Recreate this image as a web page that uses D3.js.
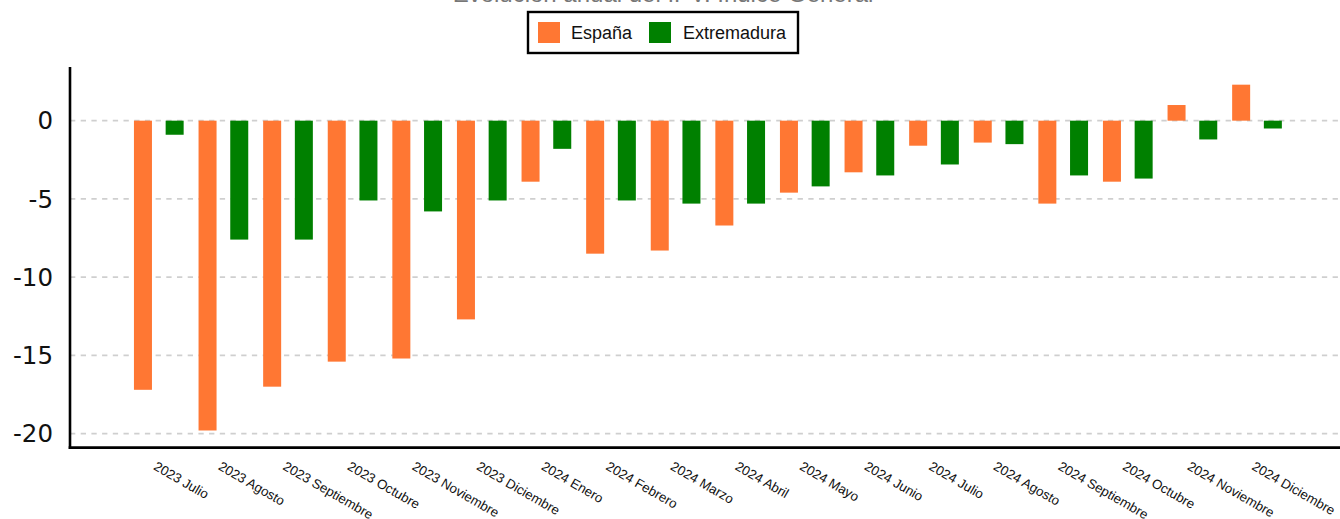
<!DOCTYPE html>
<html>
<head>
<meta charset="utf-8">
<script src="https://cdn.jsdelivr.net/npm/d3@7"></script>
<style>
  html, body { margin: 0; padding: 0; background: #fff; }
  svg { display: block; }
</style>
</head>
<body>
<svg id="chart"></svg>
<script>
// IPV annual variation, España vs Extremadura — grouped bars around zero.
const MONTHS = [
  "2023 Julio", "2023 Agosto", "2023 Septiembre", "2023 Octubre", "2023 Noviembre", "2023 Diciembre",
  "2024 Enero", "2024 Febrero", "2024 Marzo", "2024 Abril", "2024 Mayo", "2024 Junio",
  "2024 Julio", "2024 Agosto", "2024 Septiembre", "2024 Octubre", "2024 Noviembre", "2024 Diciembre",
];
const SERIES = ["España", "Extremadura"];
const ESPANA = [-17.2, -19.8, -17.0, -15.4, -15.2, -12.7, -3.9, -8.5, -8.3, -6.7, -4.6, -3.3, -1.6, -1.4, -5.3, -3.9, 1.0, 2.3];
const EXTREMADURA = [-0.9, -7.6, -7.6, -5.1, -5.8, -5.1, -1.8, -5.1, -5.3, -5.3, -4.2, -3.5, -2.8, -1.5, -3.5, -3.7, -1.2, -0.5];
const Y_TICKS = [0, -5, -10, -15, -20];
const TITLE = "Evolución anual del IPV. Índice General";

const COLORS = { "España": "#ff7733", "Extremadura": "#008000" };
const W = 1340, H = 519;

const rows = MONTHS.map((m, i) => ({ month: m, "España": ESPANA[i], "Extremadura": EXTREMADURA[i] }));

const svg = d3.select("#chart").attr("width", W).attr("height", H);

const axisX = 70, axisTop = 67, axisBottom = 447.7;

const y = d3.scaleLinear().domain([-20.9, 3.43]).range([axisBottom, axisTop]);
const x = d3.scaleBand().domain(MONTHS).range([126.5, 126.5 + 18 * 64.6]);
const xs = d3.scaleBand().domain(SERIES).range([0, x.bandwidth()])
  .paddingInner(0.432).paddingOuter(0.235);

// dashed gridlines
svg.append("g").selectAll("line").data(Y_TICKS).join("line")
  .attr("x1", axisX).attr("x2", W)
  .attr("y1", (d) => y(d)).attr("y2", (d) => y(d))
  .attr("stroke", "#cfcfcf")
  .attr("stroke-width", 1.6)
  .attr("stroke-dasharray", "5.3,5.4");

// y tick labels
svg.append("g").selectAll("text").data(Y_TICKS).join("text")
  .attr("x", 53).attr("y", (d) => y(d)).attr("dy", "0.36em")
  .attr("text-anchor", "end")
  .attr("font-family", "'DejaVu Sans', sans-serif")
  .attr("font-size", 24.5)
  .attr("fill", "#111")
  .text((d) => d);

// bars
const g = svg.append("g").selectAll("g").data(rows).join("g")
  .attr("transform", (d) => `translate(${x(d.month)},0)`);
g.selectAll("rect").data((d) => SERIES.map((k) => ({ key: k, value: d[k] }))).join("rect")
  .attr("x", (d) => xs(d.key))
  .attr("width", xs.bandwidth())
  .attr("y", (d) => y(Math.max(0, d.value)))
  .attr("height", (d) => Math.abs(y(d.value) - y(0)))
  .attr("fill", (d) => COLORS[d.key]);

// axes lines
svg.append("line")
  .attr("x1", axisX).attr("x2", axisX).attr("y1", axisTop).attr("y2", axisBottom + 1.4)
  .attr("stroke", "#000").attr("stroke-width", 2.6);
svg.append("line")
  .attr("x1", axisX - 1.3).attr("x2", W).attr("y1", axisBottom).attr("y2", axisBottom)
  .attr("stroke", "#000").attr("stroke-width", 2.8);

// rotated month labels
svg.append("g").selectAll("text").data(MONTHS).join("text")
  .attr("transform", (d) => `translate(${x(d) + x.bandwidth() / 2 - 6},469) rotate(30)`)
  .attr("font-family", "'Liberation Sans', Arial, sans-serif")
  .attr("font-size", 13.3)
  .attr("fill", "#111")
  .text((d) => d);

// title (mostly cut off above the frame)
svg.append("text")
  .attr("x", 663).attr("y", 2)
  .attr("text-anchor", "middle")
  .attr("font-family", "'Liberation Sans', Arial, sans-serif")
  .attr("font-size", 24)
  .attr("fill", "#777")
  .text(TITLE);

// legend
const lg = svg.append("g");
lg.append("rect")
  .attr("x", 528).attr("y", 12).attr("width", 270).attr("height", 41)
  .attr("fill", "#fff").attr("stroke", "#000").attr("stroke-width", 2.4);
const items = lg.selectAll("g").data(SERIES).join("g")
  .attr("transform", (d, i) => `translate(${i === 0 ? 538 : 649},22)`);
items.append("rect").attr("width", 22).attr("height", 21).attr("fill", (d) => COLORS[d]);
items.append("text")
  .attr("x", (d, i) => (i === 0 ? 33 : 34)).attr("y", 17)
  .attr("font-family", "'Liberation Sans', Arial, sans-serif")
  .attr("font-size", 18)
  .attr("fill", "#111")
  .text((d) => d);
</script>
</body>
</html>
